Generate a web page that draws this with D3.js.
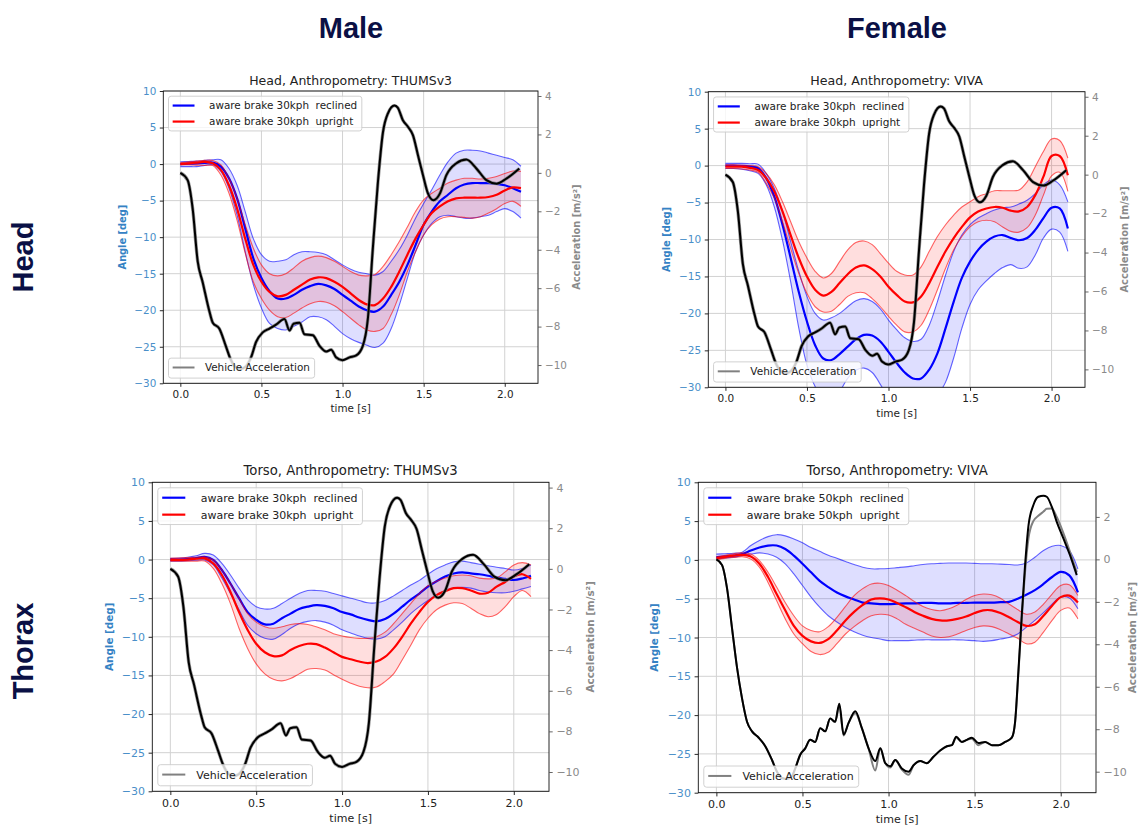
<!DOCTYPE html>
<html>
<head>
<meta charset="utf-8">
<script src="https://cdn.jsdelivr.net/npm/d3@7"></script>
<style>
body { margin: 0; background: #fff; }
svg text { font-family: "DejaVu Sans", sans-serif; }
</style>
</head>
<body>
<svg id="chart" width="1141" height="828"></svg>
<script>

// common time grid of the angle curves [s]
const timeGrid = [0.00, 0.05, 0.10, 0.15, 0.20, 0.25, 0.30, 0.35, 0.40, 0.45, 0.50, 0.55, 0.60, 0.65, 0.70,
   0.75, 0.80, 0.85, 0.90, 0.95, 1.00, 1.05, 1.10, 1.15, 1.20, 1.25, 1.30, 1.35, 1.40, 1.45, 1.50, 1.55,
   1.60, 1.65, 1.70, 1.75, 1.80, 1.85, 1.90, 1.95, 2.00, 2.05, 2.10];

const xTicks = [0.0, 0.5, 1.0, 1.5, 2.0];
const angleTicks = [-30, -25, -20, -15, -10, -5, 0, 5, 10];
const accTicks30 = [-10, -8, -6, -4, -2, 0, 2, 4];
const accTicks50 = [-10, -8, -6, -4, -2, 0, 2];

// Head, THUMSv3 (male), angle [deg]
const headMaleReclMean = [0, 0.05, 0.1, 0.15, 0.2, -0.35, -1.95, -4.7, -8.8, -12.9, -15.6, -17.4, -18.4, -18.4, -17.9, -17.2, -16.7, -16.4, -16.6, -17.1, -17.9, -18.7, -19.5, -20.0, -20.2, -19.5, -17.9, -16.1, -13.8, -11.1, -8.3, -6.5, -5.1, -4.2, -3.3, -2.8, -2.6, -2.6, -2.6, -2.7, -2.9, -3.3, -3.8];
const headMaleReclHi = [0.3, 0.35, 0.4, 0.5, 0.6, 0.6, -0.6, -2.9, -6.5, -10.2, -12.4, -13.3, -13.3, -13.1, -12.4, -12.0, -12.0, -12.1, -12.4, -13.1, -13.8, -14.4, -14.8, -15.0, -15.2, -14.7, -13.3, -11.7, -9.7, -7.4, -5.4, -3.5, -1.5, 0.3, 1.5, 1.9, 1.9, 1.8, 1.5, 1.2, 0.9, 0.6, -0.3];
const headMaleReclLo = [-0.35, -0.35, -0.35, -0.2, -0.1, -1.0, -3.3, -7.0, -12.0, -16.5, -19.7, -21.8, -22.5, -22.7, -22.2, -21.6, -20.9, -20.9, -21.3, -22.2, -23.2, -23.9, -24.4, -24.8, -25.1, -24.5, -22.5, -19.3, -15.6, -12.0, -9.7, -8.1, -7.2, -7.0, -7.2, -7.4, -7.4, -7.2, -7.0, -6.5, -6.1, -6.5, -7.4];
const headMaleUprMean = [0, 0.1, 0.2, 0.3, 0.1, -0.8, -2.9, -6.1, -10.2, -13.8, -16.1, -17.5, -18.1, -17.9, -17.2, -16.5, -15.8, -15.5, -15.6, -16.1, -16.8, -17.7, -18.6, -19.2, -19.3, -18.4, -16.8, -14.7, -12.4, -10.2, -8.3, -6.7, -5.8, -5.1, -4.7, -4.6, -4.6, -4.6, -4.5, -4.2, -3.6, -3.2, -3.3];
const headMaleUprHi = [0.2, 0.3, 0.4, 0.5, 0.5, -0.1, -1.95, -4.7, -8.3, -11.5, -13.8, -15.0, -15.3, -15.0, -14.2, -13.3, -12.8, -12.6, -12.8, -13.3, -14.0, -14.7, -15.2, -15.3, -15.1, -14.0, -12.4, -10.6, -8.6, -6.5, -4.9, -4.0, -3.3, -2.6, -2.2, -1.95, -1.95, -2.05, -1.95, -1.7, -1.3, -0.95, -1.0];
const headMaleUprLo = [-0.1, -0.1, -0.15, -0.2, -0.2, -1.5, -4.0, -7.7, -12.2, -16.1, -18.4, -20.0, -20.9, -21.0, -20.4, -19.7, -19.1, -18.8, -18.9, -19.4, -20.2, -21.1, -22.0, -22.7, -22.9, -22.5, -20.6, -17.9, -14.7, -12.0, -9.7, -8.3, -7.5, -7.2, -7.2, -7.3, -7.4, -7.2, -6.7, -6.1, -5.4, -5.1, -5.8];

// Head, VIVA (female)
const headFemReclMean = [0, 0, -0.05, -0.15, -0.35, -1.7, -4.2, -8.0, -12.5, -17.1, -21.1, -24.3, -26.1, -26.3, -25.5, -24.5, -23.5, -22.9, -23.0, -23.8, -25.2, -26.7, -28.0, -28.8, -28.8, -27.6, -25.4, -22.0, -18.4, -15.2, -13.0, -11.4, -10.3, -9.6, -9.4, -9.8, -10.1, -9.8, -8.7, -7.1, -5.7, -5.8, -8.5];
const headFemReclHi = [0.3, 0.3, 0.3, 0.25, 0.2, -1.05, -3.1, -6.2, -10.3, -14.3, -17.7, -20.0, -20.9, -20.6, -20.0, -19.1, -18.3, -18.0, -18.4, -19.4, -20.9, -22.2, -23.3, -23.8, -23.5, -21.6, -18.4, -14.8, -11.6, -9.4, -8.0, -7.1, -6.5, -6.0, -5.7, -5.6, -5.2, -4.7, -3.8, -2.6, -1.95, -2.6, -4.9];
const headFemReclLo = [-0.4, -0.4, -0.5, -0.7, -1.05, -2.6, -5.6, -10.1, -15.7, -22.0, -27.0, -29.9, -31.6, -32.0, -30.6, -28.8, -27.7, -27.4, -28.0, -29.6, -31.5, -33.0, -34.0, -34.3, -34.0, -33.0, -31.2, -29.3, -26.0, -22.0, -18.8, -16.8, -15.6, -14.6, -13.8, -13.4, -13.9, -13.7, -12.1, -9.8, -8.6, -9.0, -11.6];
const headFemUprMean = [-0.15, -0.15, -0.15, -0.3, -0.6, -1.7, -3.5, -6.2, -9.4, -12.5, -15.0, -16.8, -17.6, -17.1, -15.9, -14.7, -13.8, -13.5, -14.0, -15.0, -16.4, -17.5, -18.4, -18.5, -17.7, -15.9, -13.7, -11.6, -9.8, -8.3, -7.0, -6.2, -5.8, -5.6, -5.7, -6.1, -6.2, -5.6, -4.0, -1.5, 1.3, 1.3, -1.3];
const headFemUprHi = [0.1, 0.1, 0.05, 0, -0.15, -1.05, -2.6, -4.9, -7.6, -10.3, -12.5, -14.3, -15.2, -14.6, -13.0, -11.4, -10.4, -10.2, -10.7, -11.9, -13.2, -14.3, -14.8, -14.8, -13.7, -11.6, -9.6, -8.0, -6.7, -5.6, -4.9, -4.2, -3.8, -3.4, -3.4, -3.4, -3.3, -2.2, -0.15, 1.9, 3.6, 3.4, 1.0];
const headFemUprLo = [-0.4, -0.4, -0.45, -0.6, -0.9, -2.4, -4.4, -7.6, -11.2, -14.6, -17.3, -19.1, -19.8, -19.7, -18.8, -17.7, -17.2, -17.2, -18.0, -19.1, -20.4, -21.6, -22.5, -22.5, -21.6, -19.5, -16.8, -13.9, -11.4, -9.6, -8.3, -7.6, -7.4, -7.6, -8.3, -8.9, -9.0, -8.4, -6.7, -4.0, -1.4, -0.9, -3.5];

// Torso, THUMSv3 (male)
const torsoMaleReclMean = [0, 0, 0.05, 0.2, 0.35, -0.05, -1.35, -3.1, -5.0, -6.8, -7.8, -8.4, -8.3, -7.6, -7.0, -6.4, -6.1, -5.9, -6.0, -6.3, -6.8, -7.1, -7.5, -7.8, -8.0, -7.7, -7.0, -6.1, -5.2, -4.4, -3.5, -2.8, -2.2, -1.8, -1.65, -1.8, -1.9, -2.1, -2.35, -2.5, -2.65, -2.45, -2.1];
const torsoMaleReclHi = [0.15, 0.2, 0.3, 0.5, 0.8, 0.6, -0.5, -2.0, -3.7, -5.2, -6.1, -6.4, -6.3, -5.7, -5.0, -4.4, -4.0, -4.0, -4.1, -4.4, -4.7, -5.0, -5.3, -5.6, -5.6, -5.3, -4.7, -4.0, -3.3, -2.7, -1.9, -1.2, -0.7, -0.3, -0.2, -0.4, -0.6, -0.8, -1.0, -1.15, -1.35, -1.15, -0.7];
const torsoMaleReclLo = [-0.2, -0.2, -0.15, -0.1, -0.05, -0.7, -2.4, -4.4, -6.5, -8.5, -9.6, -10.2, -10.3, -9.7, -8.9, -8.3, -8.0, -7.9, -8.1, -8.5, -9.1, -9.5, -9.9, -10.2, -10.3, -10.0, -9.1, -8.1, -7.0, -6.1, -5.3, -4.6, -4.0, -3.7, -3.6, -3.7, -4.0, -4.2, -4.3, -4.3, -4.1, -3.8, -3.5];
const torsoMaleUprMean = [-0.05, -0.05, 0, 0.1, 0.15, -0.5, -2.0, -4.2, -6.8, -9.1, -10.9, -12.0, -12.5, -12.4, -11.7, -11.2, -10.9, -10.95, -11.4, -12.0, -12.6, -12.9, -13.2, -13.4, -13.2, -12.6, -11.5, -10.0, -8.3, -6.8, -5.5, -4.6, -4.1, -3.7, -3.7, -4.0, -4.4, -4.3, -3.5, -2.9, -2.2, -1.9, -2.5];
const torsoMaleUprHi = [0.15, 0.2, 0.25, 0.3, 0.35, -0.05, -1.35, -3.1, -5.0, -7.0, -8.1, -8.7, -8.9, -8.7, -8.4, -8.3, -8.4, -8.7, -9.1, -9.6, -9.9, -10.1, -10.2, -10.2, -10.0, -9.4, -8.3, -7.0, -5.7, -4.4, -3.4, -2.8, -2.4, -2.1, -2.0, -2.1, -2.4, -2.5, -2.4, -1.6, -0.7, -0.4, -0.7];
const torsoMaleUprLo = [-0.2, -0.2, -0.2, -0.2, -0.2, -1.15, -3.1, -5.7, -8.9, -11.5, -13.5, -14.8, -15.5, -15.7, -15.4, -14.8, -14.2, -14.1, -14.3, -14.9, -15.5, -16.0, -16.4, -16.6, -16.5, -15.8, -14.8, -13.0, -11.1, -9.1, -7.6, -6.5, -5.9, -5.6, -5.7, -6.3, -7.0, -7.4, -7.1, -6.1, -4.8, -4.0, -4.8];

// Torso, VIVA (female), 50 kph
const torsoFemReclMean = [0.35, 0.45, 0.55, 0.75, 1.2, 1.6, 1.85, 1.85, 1.4, 0.55, -0.5, -1.6, -2.7, -3.5, -4.2, -4.7, -5.1, -5.5, -5.6, -5.7, -5.7, -5.65, -5.6, -5.6, -5.55, -5.55, -5.6, -5.6, -5.55, -5.55, -5.5, -5.5, -5.5, -5.45, -5.4, -5.0, -4.5, -3.9, -3.1, -2.2, -1.55, -2.0, -4.2];
const torsoFemReclHi = [0.75, 0.8, 0.85, 1.0, 1.85, 2.5, 3.0, 3.25, 3.1, 2.7, 2.2, 1.6, 1.1, 0.6, 0.2, -0.2, -0.6, -0.95, -1.15, -1.15, -1.1, -1.0, -0.9, -0.75, -0.6, -0.5, -0.45, -0.4, -0.4, -0.4, -0.45, -0.5, -0.5, -0.55, -0.6, -0.65, -0.4, 0.35, 1.2, 1.75, 1.85, 1.2, -1.15];
const torsoFemReclLo = [0.1, 0.25, 0.35, 0.55, 0.75, 0.9, 0.75, 0.35, -0.5, -1.8, -3.3, -4.8, -6.1, -7.2, -8.0, -8.7, -9.25, -9.7, -10.0, -10.2, -10.4, -10.4, -10.4, -10.35, -10.3, -10.3, -10.3, -10.3, -10.3, -10.35, -10.4, -10.5, -10.4, -10.2, -10.0, -9.55, -8.7, -7.8, -6.8, -5.7, -4.8, -4.9, -6.3];
const torsoFemUprMean = [0.2, 0.4, 0.55, 0.65, 0.45, -0.5, -2.2, -4.4, -6.5, -8.5, -9.8, -10.5, -10.7, -10.2, -9.1, -7.8, -6.7, -5.8, -5.1, -4.95, -5.1, -5.55, -6.1, -6.7, -7.2, -7.6, -7.8, -7.8, -7.6, -7.3, -6.85, -6.5, -6.5, -6.85, -7.4, -8.0, -8.5, -8.3, -7.2, -5.9, -4.8, -4.6, -5.5];
const torsoFemUprHi = [0.4, 0.6, 0.8, 0.9, 0.75, -0.1, -1.6, -3.5, -5.5, -7.2, -8.5, -9.1, -9.25, -8.6, -7.4, -6.0, -4.6, -3.7, -3.1, -3.0, -3.3, -3.9, -4.6, -5.35, -6.0, -6.4, -6.55, -6.3, -5.8, -5.1, -4.6, -4.4, -4.5, -4.95, -5.7, -6.4, -7.0, -6.7, -5.7, -4.4, -3.3, -3.2, -4.6];
const torsoFemUprLo = [0, 0.2, 0.3, 0.4, 0.1, -0.95, -2.9, -5.25, -7.6, -9.55, -10.8, -11.8, -12.2, -11.9, -10.8, -9.55, -8.6, -7.8, -7.2, -7.0, -7.1, -7.6, -8.3, -8.8, -9.3, -9.8, -10.0, -9.9, -9.55, -9.1, -8.7, -8.5, -8.6, -9.0, -9.55, -10.1, -10.8, -10.6, -9.3, -7.8, -6.5, -6.2, -7.6];

// vehicle acceleration [m/s^2], 30 kph test
const accTime30 = [0, 0.045, 0.076, 0.107, 0.138, 0.179, 0.2, 0.24, 0.28, 0.31, 0.34, 0.37, 0.40, 0.436, 0.467,
   0.508, 0.55, 0.59, 0.642, 0.673, 0.698, 0.735, 0.765, 0.817, 0.858, 0.9, 0.93, 0.96, 1.0, 1.043, 1.084,
   1.125, 1.156, 1.187, 1.218, 1.249, 1.28, 1.32, 1.34, 1.372, 1.403, 1.434, 1.465, 1.496, 1.527, 1.56,
   1.6, 1.64, 1.7, 1.763, 1.825, 1.887, 1.95, 2.01, 2.09];
const acc30 = [0, -0.38, -1.86, -4.6, -5.7, -7.2, -7.8, -8.1, -9.0, -9.7, -10.1, -10.2, -10.1, -9.6, -8.8,
   -8.3, -8.1, -7.9, -7.6, -8.2, -7.85, -7.8, -8.4, -8.45, -9.0, -9.3, -9.2, -9.6, -9.75, -9.6, -9.5,
   -9.0, -7.6, -3.9, -0.5, 2.1, 3.1, 3.5, 3.4, 2.74, 2.4, 1.96, 0.92, -0.12, -1.08, -1.42,
   -1.08, -0.12, 0.49, 0.69, 0.23, -0.38, -0.56, -0.3, 0.23];

// vehicle acceleration [m/s^2], 50 kph test (black run and grey run)
const accTime50 = [0, 0.033, 0.062, 0.091, 0.12, 0.149, 0.178, 0.207, 0.246, 0.284, 0.323, 0.352, 0.38, 0.41,
   0.44, 0.458, 0.487, 0.516, 0.545, 0.574, 0.603, 0.632, 0.661, 0.69, 0.714, 0.739, 0.768, 0.807, 0.845,
   0.884, 0.923, 0.952, 0.981, 1.01, 1.039, 1.077, 1.116, 1.145, 1.184, 1.222, 1.261, 1.3, 1.339, 1.368,
   1.393, 1.426, 1.455, 1.484, 1.522, 1.561, 1.6, 1.638, 1.677, 1.716, 1.735, 1.754, 1.774, 1.793, 1.813,
   1.841, 1.87, 1.9, 1.919, 1.948, 1.977, 2.015, 2.054, 2.093];
const acc50 = [0, -0.27, -1.37, -3.25, -5.1, -6.55, -7.65, -8.1, -8.4, -8.8, -9.45, -10.0, -10.3, -10.35,
   -10.2, -9.85, -9.2, -8.9, -8.5, -8.6, -7.95, -8.1, -7.5, -7.65, -6.8, -8.25, -7.7, -7.15, -7.95,
   -8.9, -9.5, -8.9, -9.6, -9.75, -9.45, -9.85, -10.0, -9.7, -9.5, -9.6, -9.3, -9.0, -8.8, -8.75,
   -8.35, -8.6, -8.5, -8.4, -8.65, -8.6, -8.75, -8.75, -8.6, -8.4, -7.65, -5.3, -2.6, -0.27, 1.6,
   2.55, 2.95, 3.0, 2.95, 2.48, 1.77, 1.0, 0.2, -0.74];
const acc50grey = [0, -0.27, -1.37, -3.25, -5.1, -6.55, -7.65, -8.1, -8.4, -8.8, -9.45, -10.0, -10.3, -10.35,
   -10.2, -9.85, -9.2, -8.9, -8.5, -8.6, -7.95, -8.1, -7.5, -7.65, -6.9, -8.3, -7.7, -7.25, -7.95,
   -8.9, -9.95, -8.9, -9.6, -9.8, -9.45, -9.9, -10.15, -9.7, -9.5, -9.6, -9.3, -9.0, -8.8, -8.75,
   -8.4, -8.6, -8.5, -8.45, -8.75, -8.6, -8.75, -8.75, -8.6, -8.4, -7.7, -5.4, -2.8, -0.6, 1.0,
   1.8, 2.05, 2.25, 2.38, 2.4, 2.0, 1.25, 0.35, -0.6];

const timeDomain = [-0.105, 2.205];
const angleDomain = [-30, 10];

var panels = [
   {id: 1, left: 163.3, right: 538, top: 91, bottom: 383.3, k: 1.0,
    title: "Head, Anthropometry: THUMSv3", speed: "30kph", accDomain: [-10.95, 4.26], accTicks: accTicks30,
    recl: [headMaleReclMean, headMaleReclHi, headMaleReclLo], upr: [headMaleUprMean, headMaleUprHi, headMaleUprLo],
    accTime: accTime30, acc: acc30, accGrey: null},
   {id: 2, left: 708.3, right: 1085, top: 91.7, bottom: 387.3, k: 1.01,
    title: "Head, Anthropometry: VIVA", speed: "30kph", accDomain: [-10.92, 4.26], accTicks: accTicks30,
    recl: [headFemReclMean, headFemReclHi, headFemReclLo], upr: [headFemUprMean, headFemUprHi, headFemUprLo],
    accTime: accTime30, acc: acc30, accGrey: null},
   {id: 3, left: 152.3, right: 549, top: 482.3, bottom: 791.3, k: 1.058,
    title: "Torso, Anthropometry: THUMSv3", speed: "30kph", accDomain: [-10.95, 4.26], accTicks: accTicks30,
    recl: [torsoMaleReclMean, torsoMaleReclHi, torsoMaleReclLo], upr: [torsoMaleUprMean, torsoMaleUprHi, torsoMaleUprLo],
    accTime: accTime30, acc: acc30, accGrey: null},
   {id: 4, left: 698.3, right: 1096, top: 482.3, bottom: 792.7, k: 1.06,
    title: "Torso, Anthropometry: VIVA", speed: "50kph", accDomain: [-10.99, 3.63], accTicks: accTicks50,
    recl: [torsoFemReclMean, torsoFemReclHi, torsoFemReclLo], upr: [torsoFemUprMean, torsoFemUprHi, torsoFemUprLo],
    accTime: accTime50, acc: acc50, accGrey: acc50grey}
];

var svg = d3.select("#chart");
svg.append("rect").attr("width", 1141).attr("height", 828).attr("fill", "#fff");

/** Draws one legend box. rows is a list of {label, color, width}. */
function draw_legend(g, x0, y0, rows, fs, textOff) {
   var lg = g.append("g");
   var box = lg.append("rect");
   var rowStep = 1.54 * fs,
       firstRow = 0.9 * fs;
   var maxLen = 0;
   rows.forEach(function(r, i) {
      var cy = y0 + firstRow + i * rowStep;
      lg.append("line")
         .attr("x1", x0 + 0.4 * fs).attr("x2", x0 + 2.5 * fs)
         .attr("y1", cy).attr("y2", cy)
         .attr("stroke", r.color).attr("stroke-width", r.width);
      var t = lg.append("text")
         .attr("x", x0 + textOff * fs).attr("y", cy).attr("dy", "0.36em")
         .style("font-size", fs + "px").style("white-space", "pre")
         .attr("fill", "#222").text(r.label);
      maxLen = Math.max(maxLen, t.node().getComputedTextLength());
   });
   var h = (rows.length == 1) ? 1.92 * fs : 1.8 * fs + (rows.length - 1) * rowStep;
   box.attr("x", x0).attr("y", y0).attr("rx", 0.25 * fs)
      .attr("width", textOff * fs + maxLen + 0.45 * fs).attr("height", h)
      .attr("fill", "#fff").attr("fill-opacity", 0.8)
      .attr("stroke", "#cccccc").attr("stroke-width", 0.9);
   return h;
}

function style_ticks(ax, fs, color, tickColor) {
   ax.select(".domain").remove();
   ax.selectAll(".tick line").attr("stroke", tickColor).attr("stroke-width", 0.9);
   ax.selectAll(".tick text").attr("fill", color)
      .style("font-size", fs + "px").style("font-family", "DejaVu Sans");
}

function draw_panel(p) {

   var k = p.k,
      fs = 10.4 * k;
   var x = d3.scaleLinear().domain(timeDomain).range([p.left, p.right]);
   var y = d3.scaleLinear().domain(angleDomain).range([p.bottom, p.top]);
   var y2 = d3.scaleLinear().domain(p.accDomain).range([p.bottom, p.top]);

   var g = svg.append("g");
   var clipId = "clip" + p.id;
   g.append("clipPath").attr("id", clipId)
      .append("rect")
      .attr("x", p.left).attr("y", p.top)
      .attr("width", p.right - p.left).attr("height", p.bottom - p.top);

   // grid
   g.append("g").selectAll("line").data(xTicks).join("line")
      .attr("x1", function(d) { return x(d); }).attr("x2", function(d) { return x(d); })
      .attr("y1", p.top).attr("y2", p.bottom)
      .attr("stroke", "#d2d2d2").attr("stroke-width", 1);
   g.append("g").selectAll("line").data(angleTicks).join("line")
      .attr("x1", p.left).attr("x2", p.right)
      .attr("y1", function(d) { return y(d); }).attr("y2", function(d) { return y(d); })
      .attr("stroke", "#d2d2d2").attr("stroke-width", 1);

   var plot = g.append("g").attr("clip-path", "url(#" + clipId + ")");

   var groups = [
      {s: p.recl, color: "#0000ff", fill: "rgba(0,0,255,0.13)"},
      {s: p.upr, color: "#ff0000", fill: "rgba(255,0,0,0.13)"}
   ];
   var rowsOf = function(s) {
      return timeGrid.map(function(t, i) { return {t: t, m: s[0][i], hi: s[1][i], lo: s[2][i]}; });
   };
   groups.forEach(function(grp) {
      var rows = rowsOf(grp.s);
      plot.append("path")
         .datum(rows)
         .attr("fill", grp.fill)
         .attr("d", d3.area().curve(d3.curveCatmullRom)
            .x(function(d) { return x(d.t); })
            .y0(function(d) { return y(d.lo); })
            .y1(function(d) { return y(d.hi); }));
   });
   groups.forEach(function(grp) {
      var rows = rowsOf(grp.s);
      ["hi", "lo"].forEach(function(key) {
         plot.append("path")
            .datum(rows)
            .attr("fill", "none")
            .attr("stroke", grp.color).attr("stroke-opacity", 0.6)
            .attr("stroke-width", 1.1)
            .attr("d", d3.line().curve(d3.curveCatmullRom)
               .x(function(d) { return x(d.t); })
               .y(function(d) { return y(d[key]); }));
      });
      plot.append("path")
         .datum(rows)
         .attr("fill", "none")
         .attr("stroke", grp.color)
         .attr("stroke-width", 2.2)
         .attr("d", d3.line().curve(d3.curveCatmullRom)
            .x(function(d) { return x(d.t); })
            .y(function(d) { return y(d.m); }));
   });

   draw_legend(g, p.left + 0.5 * fs, p.top + 0.5 * fs, [
      {label: "aware brake " + p.speed + "  reclined", color: "#0000ff", width: 2.2},
      {label: "aware brake " + p.speed + "  upright", color: "#ff0000", width: 2.2}
   ], fs, 3.9);

   // acceleration on the twin axis
   var accLine = d3.line().curve(d3.curveMonotoneX)
      .x(function(d) { return x(d.t); })
      .y(function(d) { return y2(d.v); });
   var acc = p.accTime.map(function(t, i) { return {t: t, v: p.acc[i]}; });
   var aplot = g.append("g").attr("clip-path", "url(#" + clipId + ")");
   if (p.accGrey) {
      var grey = p.accTime.map(function(t, i) { return {t: t, v: p.accGrey[i]}; });
      aplot.append("path").datum(grey).attr("fill", "none")
         .attr("stroke", "#808080").attr("stroke-width", 2).attr("d", accLine);
   }
   else {
      aplot.append("path").datum(acc).attr("fill", "none")
         .attr("stroke", "#808080").attr("stroke-opacity", 0.8)
         .attr("stroke-width", 3.4).attr("d", accLine);
   }
   aplot.append("path").datum(acc).attr("fill", "none")
      .attr("stroke", "#000").attr("stroke-width", 2).attr("d", accLine);

   var h2 = 1.92 * fs;
   draw_legend(g, p.left + 0.5 * fs, p.bottom - 0.5 * fs - h2, [
      {label: "Vehicle Acceleration", color: "#808080", width: 2}
   ], fs, 3.5);

   // frame
   g.append("rect")
      .attr("x", p.left).attr("y", p.top)
      .attr("width", p.right - p.left).attr("height", p.bottom - p.top)
      .attr("fill", "none").attr("stroke", "#111").attr("stroke-width", 0.9);

   // axes
   var xAx = g.append("g").attr("transform", "translate(0," + p.bottom + ")")
      .call(d3.axisBottom(x).tickValues(xTicks).tickFormat(d3.format(".1f"))
         .tickSize(3.5 * k).tickPadding(3.5 * k));
   style_ticks(xAx, fs, "#222", "#111");

   var yAx = g.append("g").attr("transform", "translate(" + p.left + ",0)")
      .call(d3.axisLeft(y).tickValues(angleTicks).tickFormat(d3.format("d"))
         .tickSize(3.5 * k).tickPadding(3.5 * k));
   style_ticks(yAx, fs, "#4a8fc9", "#111");

   var y2Ax = g.append("g").attr("transform", "translate(" + p.right + ",0)")
      .call(d3.axisRight(y2).tickValues(p.accTicks).tickFormat(d3.format("d"))
         .tickSize(3.5 * k).tickPadding(3.5 * k));
   style_ticks(y2Ax, fs, "#8a8a8a", "#555");

   // labels
   var cx = (p.left + p.right) / 2,
       cy = (p.top + p.bottom) / 2;
   g.append("text")
      .attr("x", cx).attr("y", p.top - 6.5 * k)
      .attr("text-anchor", "middle")
      .style("font-size", (12.5 * k) + "px").attr("fill", "#222")
      .text(p.title);
   g.append("text")
      .attr("x", cx).attr("y", p.bottom + 29 * k)
      .attr("text-anchor", "middle")
      .style("font-size", fs + "px").attr("fill", "#222")
      .text("time [s]");
   g.append("text")
      .attr("transform", "translate(" + (p.left - 41 * k) + "," + cy + ") rotate(-90)")
      .attr("text-anchor", "middle").attr("dy", "0.35em")
      .style("font-size", (9.8 * k) + "px").style("font-weight", "bold")
      .attr("fill", "#3582c4")
      .text("Angle [deg]");
   // the right label of the last panel sits at the page edge, keep it inside
   var rx = Math.min(p.right + 39 * k, 1132);
   g.append("text")
      .attr("transform", "translate(" + rx + "," + cy + ") rotate(-90)")
      .attr("text-anchor", "middle").attr("dy", "0.35em")
      .style("font-size", (9.8 * k) + "px").style("font-weight", "bold")
      .attr("fill", "#8a8a8a")
      .text("Acceleration [m/s²]");
}

panels.forEach(draw_panel);

// column and row headings
var heads = [
   {text: "Male", x: 351, y: 38, rot: false},
   {text: "Female", x: 897, y: 38, rot: false},
   {text: "Head", x: 33, y: 257, rot: true},
   {text: "Thorax", x: 33, y: 651, rot: true}
];
heads.forEach(function(h) {
   svg.append("text")
      .attr("transform", "translate(" + h.x + "," + h.y + ")" + (h.rot ? " rotate(-90)" : ""))
      .attr("text-anchor", "middle")
      .style("font-family", "'Liberation Sans', Arial, sans-serif")
      .style("font-weight", "bold").style("font-size", "29px")
      .attr("fill", "#0a1045")
      .text(h.text);
});

</script>
</body>
</html>
